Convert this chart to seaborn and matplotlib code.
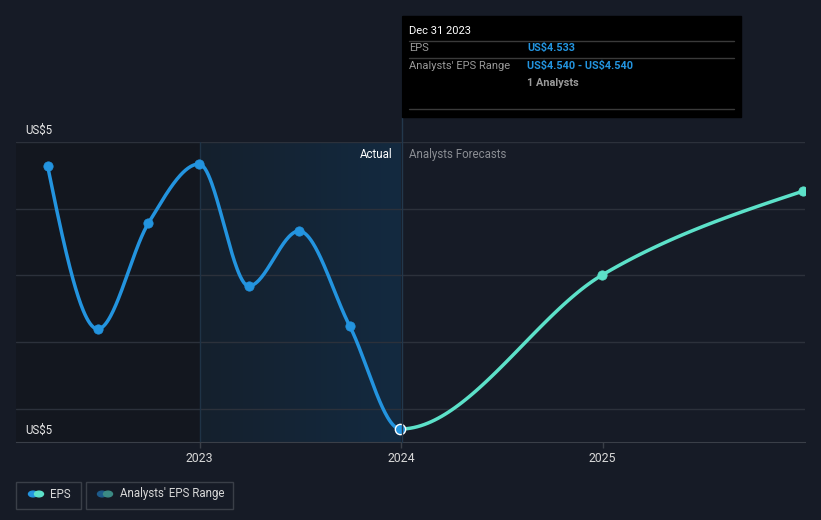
#!/usr/bin/env python

import matplotlib
matplotlib.use('Agg')
import matplotlib.dates as mdates
import matplotlib.pyplot as plt
import numpy as np
import pandas as pd
import seaborn as sns
from matplotlib.colors import LinearSegmentedColormap
from matplotlib.patches import Rectangle

# EPS history (actual) and analyst forecasts
actual_dates = ['2022-03-31', '2022-06-30', '2022-09-30', '2022-12-31',
                '2023-03-31', '2023-06-30', '2023-09-30', '2023-12-31']
actual_eps = [4.796, 4.633, 4.739, 4.798, 4.676, 4.731, 4.636, 4.533]

forecast_dates = ['2023-12-31', '2024-12-31', '2025-12-31']
forecast_eps = [4.533, 4.687, 4.771]

year_ticks = ['2023-01-01', '2024-01-01', '2025-01-01']
year_labels = ['2023', '2024', '2025']

BG = '#161b26'
BLUE = '#2394df'
TEAL = '#5ce1c9'


def monotone_curve(xs, ys, n=60):
    # d3-style monotone cubic (Steffen) interpolation
    xs = np.asarray(xs, float)
    ys = np.asarray(ys, float)
    h = np.diff(xs)
    s = np.diff(ys) / h
    m = np.zeros(len(xs))
    for i in range(1, len(xs) - 1):
        p = (s[i - 1] * h[i] + s[i] * h[i - 1]) / (h[i - 1] + h[i])
        m[i] = (np.sign(s[i - 1]) + np.sign(s[i])) * min(abs(s[i - 1]), abs(s[i]), 0.5 * abs(p))
    m[0] = (3 * s[0] - m[1]) / 2
    m[-1] = (3 * s[-1] - m[-2]) / 2
    out_x, out_y = [], []
    for i in range(len(xs) - 1):
        t = np.linspace(0, 1, n)
        h00 = 2 * t**3 - 3 * t**2 + 1
        h10 = t**3 - 2 * t**2 + t
        h01 = -2 * t**3 + 3 * t**2
        h11 = t**3 - t**2
        yy = h00 * ys[i] + h10 * h[i] * m[i] + h01 * ys[i + 1] + h11 * h[i] * m[i + 1]
        out_x.extend(xs[i] + t * h[i])
        out_y.extend(yy)
    return np.array(out_x), np.array(out_y)


def main():
    sns.set_style('dark', {'axes.facecolor': BG, 'figure.facecolor': BG})
    plt.rcParams['font.family'] = ['Roboto', 'DejaVu Sans']
    plt.rcParams['text.parse_math'] = False

    a_x = mdates.date2num(pd.to_datetime(actual_dates))
    f_x = mdates.date2num(pd.to_datetime(forecast_dates))
    t_x = mdates.date2num(pd.to_datetime(year_ticks))

    fig = plt.figure(figsize=(8.21, 5.2), dpi=100)
    W, H = 821, 520
    ax = fig.add_axes([16 / W, (H - 442) / H, (805 - 16) / W, 300 / H])
    ax.set_facecolor(BG)

    ymin, ymax = 4.52, 4.82
    x_left = t_x[0] - (184 / 201.5) * 365
    x_right = t_x[2] + (202 / 201.5) * 366

    # shaded regions
    ax.add_patch(Rectangle((x_left, ymin), t_x[0] - x_left, ymax - ymin,
                           color='#13171f', zorder=0, lw=0))
    cmap = LinearSegmentedColormap.from_list('sh', ['#15202d', '#132a40'])
    grad = np.linspace(0, 1, 256).reshape(1, -1)
    ax.imshow(grad, extent=[t_x[0], a_x[-1], ymin, ymax], aspect='auto',
              cmap=cmap, zorder=0.5, origin='lower')
    ax.set_xlim(x_left, x_right)
    ax.set_ylim(ymin, ymax)

    # grid lines
    step = (ymax - ymin) / 4.5
    for k in range(5):
        ax.axhline(ymax - k * step, color='#2c313b', lw=1, zorder=1)
    ax.axvline(t_x[0], color='#1f3346', lw=1, zorder=1)

    # one smooth curve through all points, coloured by actual / forecast
    all_x = np.concatenate([a_x, f_x[1:]])
    all_y = np.concatenate([actual_eps, forecast_eps[1:]])
    cx, cy = monotone_curve(all_x, all_y)
    is_actual = cx <= a_x[-1] + 1e-9
    is_fc = cx >= a_x[-1] - 1e-9
    sns.lineplot(x=cx[is_fc], y=cy[is_fc], ax=ax, color=TEAL, lw=2.5, zorder=3, sort=False)
    sns.lineplot(x=cx[is_actual], y=cy[is_actual], ax=ax, color=BLUE, lw=2.5,
                 zorder=4, sort=False)
    sns.scatterplot(x=a_x[:-1], y=actual_eps[:-1], ax=ax, color=BLUE, s=45,
                    edgecolor=BLUE, zorder=5)
    sns.scatterplot(x=f_x[1:], y=forecast_eps[1:], ax=ax, color=TEAL, s=45,
                    edgecolor=TEAL, zorder=5)
    ax.scatter([a_x[-1]], [actual_eps[-1]], s=55, color=BLUE, edgecolor='white',
               linewidth=1, zorder=6, clip_on=False)

    # axes styling
    for side in ['top', 'right', 'left']:
        ax.spines[side].set_visible(False)
    ax.spines['bottom'].set_color('#3a3f48')
    ax.set_yticks([])
    ax.set_xticks(t_x)
    ax.set_xticklabels(year_labels)
    ax.tick_params(axis='x', colors='#3a3f48', labelcolor='#d8d8d8', labelsize=8.8,
                   length=4, width=1, pad=3, bottom=True)
    ax.set_xlabel('')
    ax.set_ylabel('')
    ax.grid(False)

    # y labels
    fig.text(25 / W, 1 - 130 / H, 'US$5', color='#e8e8e8', fontsize=8.3, va='center')
    fig.text(25 / W, 1 - 430 / H, 'US$5', color='#e8e8e8', fontsize=8.3, va='center')

    # divider line between actual and forecast (extends up to tooltip)
    fig.add_artist(plt.Line2D([402 / W, 402 / W], [1 - 442 / H, 1 - 16 / H],
                              color='#23384c', lw=1, zorder=2))
    fig.text(392 / W, 1 - 154 / H, 'Actual', color='#ffffff', fontsize=8.3,
             ha='right', va='center')
    fig.text(409 / W, 1 - 154 / H, 'Analysts Forecasts', color='#8a8d93', fontsize=8.3,
             ha='left', va='center')

    # tooltip
    fig.add_artist(Rectangle((402 / W, 1 - 117 / H), (741 - 402) / W, 101 / H,
                             transform=fig.transFigure, color='#000000', zorder=10))
    for yy in [41, 58, 109]:
        fig.add_artist(plt.Line2D([409 / W, 734 / W], [1 - yy / H, 1 - yy / H],
                                  color='#3a3a3a', lw=1, zorder=11))
    fig.text(409 / W, 1 - 31 / H, 'Dec 31 2023', color='#ffffff', fontsize=8,
             va='center', zorder=12)
    fig.text(409 / W, 1 - 48 / H, 'EPS', color='#9a9a9a', fontsize=8,
             va='center', zorder=12)
    fig.text(527 / W, 1 - 48 / H, 'US$4.533', color='#2394df', fontsize=7.8,
             va='center', fontweight='bold', zorder=12)
    fig.text(409 / W, 1 - 66 / H, "Analysts' EPS Range", color='#9a9a9a', fontsize=8,
             va='center', zorder=12)
    fig.text(527 / W, 1 - 66 / H, 'US$4.540 - US$4.540', color='#2394df', fontsize=7.8,
             va='center', fontweight='bold', zorder=12)
    fig.text(527 / W, 1 - 83 / H, '1 Analysts', color='#9a9a9a', fontsize=7.8,
             va='center', fontweight='bold', zorder=12)

    # legend boxes
    for x0, x1 in [(16, 81), (86, 233)]:
        fig.add_artist(Rectangle((x0 / W, 1 - 509 / H), (x1 - x0) / W, 27 / H,
                                 transform=fig.transFigure, facecolor='none',
                                 edgecolor='#3a3f48', lw=1))
    fig.add_artist(plt.Circle((33 / W, 1 - 494 / H), 4.5 / W, color=BLUE,
                              transform=fig.transFigure))
    fig.add_artist(plt.Circle((39 / W, 1 - 494 / H), 4.5 / W, color=TEAL,
                              transform=fig.transFigure))
    fig.add_artist(plt.Circle((102 / W, 1 - 494 / H), 4.5 / W, color='#1d5a8a',
                              transform=fig.transFigure))
    fig.add_artist(plt.Circle((108 / W, 1 - 494 / H), 4.5 / W, color='#3b8a84',
                              transform=fig.transFigure))
    fig.text(50 / W, 1 - 494 / H, 'EPS', color='#d8d8d8', fontsize=8.3, va='center')
    fig.text(120 / W, 1 - 494 / H, "Analysts' EPS Range", color='#d8d8d8',
             fontsize=8.3, va='center')

    plt.savefig('out.png', dpi=100, facecolor=BG)


if __name__ == '__main__':
    main()
